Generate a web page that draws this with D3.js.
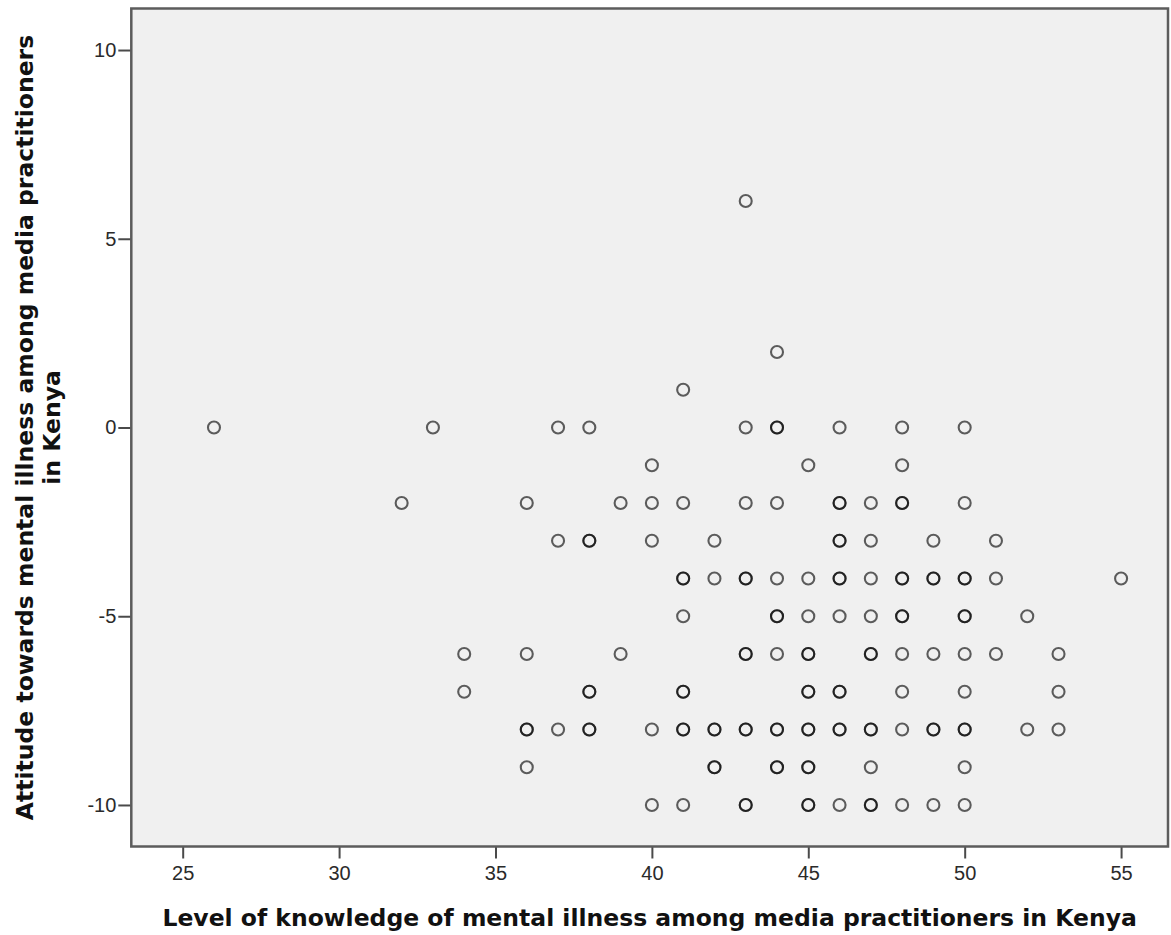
<!DOCTYPE html>
<html>
<head>
<meta charset="utf-8">
<script src="https://cdn.jsdelivr.net/npm/d3@7"></script>
<style>
  body { margin: 0; background: #fff; }
  text { font-family: "Liberation Sans", Arial, sans-serif; }
</style>
</head>
<body>
<div class="container"></div>
<script>
var width = 1171;
var height = 935;
var padding = {
  top: 8.5,
  bottom: 88.5,
  left: 131.3,
  right: 3
};

// One entry per respondent (knowledge score, attitude score).
// Repeated pairs are drawn on top of each other, that is what makes some rings darker.
var knowledge = [
  43,
  44,
  41,
  26, 33, 37, 38, 43, 44, 44, 46, 48, 50,
  40, 45, 48,
  32, 36, 39, 40, 41, 43, 44, 46, 46, 47, 48, 48, 50,
  37, 38, 38, 40, 42, 46, 46, 47, 49, 51,
  41, 41, 42, 43, 43, 44, 45, 46, 46, 47, 48, 48, 49, 49, 50, 50, 51, 55,
  41, 44, 44, 45, 46, 47, 48, 48, 50, 50, 52,
  34, 36, 39, 43, 43, 44, 45, 45, 47, 47, 48, 49, 50, 51, 53,
  34, 38, 38, 41, 41, 45, 45, 46, 46, 48, 50, 53,
  36, 36, 37, 38, 38, 40, 41, 41, 42, 42, 43, 43, 44, 44, 45, 45, 46, 46, 47, 47, 48, 49, 49, 50, 50, 52, 53,
  36, 42, 42, 44, 44, 45, 45, 47, 50,
  40, 41, 43, 43, 45, 45, 46, 47, 47, 48, 49, 50
];
var attitude = [
  6,
  2,
  1,
  0, 0, 0, 0, 0, 0, 0, 0, 0, 0,
  -1, -1, -1,
  -2, -2, -2, -2, -2, -2, -2, -2, -2, -2, -2, -2, -2,
  -3, -3, -3, -3, -3, -3, -3, -3, -3, -3,
  -4, -4, -4, -4, -4, -4, -4, -4, -4, -4, -4, -4, -4, -4, -4, -4, -4, -4,
  -5, -5, -5, -5, -5, -5, -5, -5, -5, -5, -5,
  -6, -6, -6, -6, -6, -6, -6, -6, -6, -6, -6, -6, -6, -6, -6,
  -7, -7, -7, -7, -7, -7, -7, -7, -7, -7, -7, -7,
  -8, -8, -8, -8, -8, -8, -8, -8, -8, -8, -8, -8, -8, -8, -8, -8, -8, -8, -8, -8, -8, -8, -8, -8, -8, -8, -8,
  -9, -9, -9, -9, -9, -9, -9, -9, -9,
  -10, -10, -10, -10, -10, -10, -10, -10, -10, -10, -10, -10
];

var xTicks = [25, 30, 35, 40, 45, 50, 55];
var yTicks = [10, 5, 0, -5, -10];

var xTitle = "Level of knowledge of mental illness among media practitioners in Kenya";
var yTitleLines = ["Attitude towards mental illness among media practitioners", "in Kenya"];

var data = knowledge.map(function (k, i) {
  return {knowledge: k, attitude: attitude[i]};
});

var svg = d3.select(".container").append("svg")
  .attr("width", width)
  .attr("height", height);

// SPSS pads the axes a little past the data range
var xScale = d3.scaleLinear().domain([23.357, 56.5]).range([padding.left, width - padding.right]);
var yScale = d3.scaleLinear().domain([-11.1, 11.1]).range([height - padding.bottom, padding.top]);

var plotW = width - padding.right - padding.left;
var plotH = height - padding.bottom - padding.top;

// grey plot background
svg.append("rect")
  .attr("x", padding.left)
  .attr("y", padding.top)
  .attr("width", plotW)
  .attr("height", plotH)
  .style("fill", "#f0f0f0");

renderCircles(data);
renderAxes();
renderTitles();

// frame goes last so it sits over the tick roots
svg.append("rect")
  .attr("x", padding.left)
  .attr("y", padding.top)
  .attr("width", plotW)
  .attr("height", plotH)
  .style("fill", "none")
  .style("stroke", "#5c5c5c")
  .style("stroke-width", 2.5);

function renderCircles(data) {
  var circles = svg.selectAll("circle.point")
    .data(data);

  circles.enter().append("circle")
    .attr("class", "point")
    .attr("cx", function (d) { return xScale(d.knowledge); })
    .attr("cy", function (d) { return yScale(d.attitude); })
    .attr("r", 6)
    .style("fill", "none")
    .style("stroke", "#000")
    .style("stroke-opacity", 0.62)
    .style("stroke-width", 2.1);
}

function renderAxes() {
  // plain hyphen for negatives, like the original
  var fmt = function (d) { return String(d); };

  var axisX = d3.axisBottom(xScale)
    .tickValues(xTicks)
    .tickSize(12)
    .tickPadding(7)
    .tickFormat(fmt);

  var axisY = d3.axisLeft(yScale)
    .tickValues(yTicks)
    .tickSize(13)
    .tickPadding(2)
    .tickFormat(fmt);

  var gx = svg.append("g")
    .attr("transform", "translate(0," + (height - padding.bottom) + ")")
    .call(axisX);

  var gy = svg.append("g")
    .attr("transform", "translate(" + padding.left + ",0)")
    .call(axisY);

  [gx, gy].forEach(function (g) {
    g.select(".domain").remove();
    g.selectAll(".tick line")
      .style("stroke", "#4a4a4a")
      .style("stroke-width", 2);
    g.selectAll(".tick text")
      .style("font-family", "Liberation Sans, Arial, sans-serif")
      .style("font-size", "20px")
      .style("fill", "#2a2a2a");
  });
}

function renderTitles() {
  svg.append("text")
    .attr("x", padding.left + plotW / 2)
    .attr("y", 926)
    .style("text-anchor", "middle")
    .style("font-family", "DejaVu Sans, Verdana, sans-serif")
    .style("font-size", "23.5px")
    .style("font-weight", "bold")
    .style("fill", "#111")
    .text(xTitle);

  var cy = padding.top + plotH / 2;
  var baselines = [33, 60];
  yTitleLines.forEach(function (line, i) {
    svg.append("text")
      .attr("transform", "translate(" + baselines[i] + "," + cy + ") rotate(-90)")
      .style("text-anchor", "middle")
      .style("font-family", "DejaVu Sans, Verdana, sans-serif")
      .style("font-size", "23.5px")
      .style("font-weight", "bold")
      .style("fill", "#111")
      .text(line);
  });
}
</script>
</body>
</html>
